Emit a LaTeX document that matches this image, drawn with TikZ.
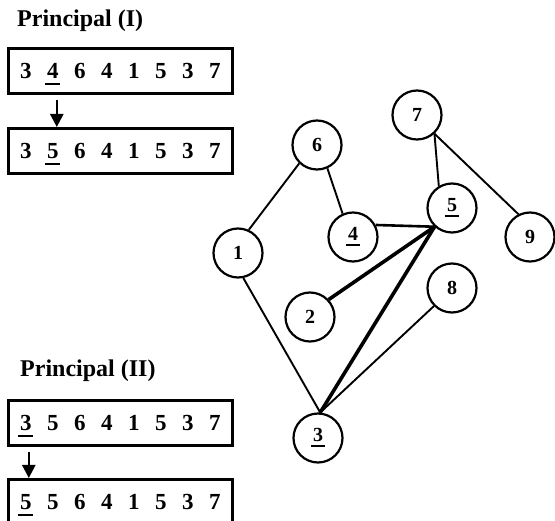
\documentclass[tikz,border=0pt]{standalone}
\usepackage{fontspec}
\setmainfont{Liberation Serif}
\usetikzlibrary{matrix, arrows.meta}

% thick underline for the marked digits
\newsavebox{\digbox}
\newcommand{\ulnum}[1]{\sbox{\digbox}{#1}%
  \rlap{\hspace{-.08em}\rule[-.27em]{\dimexpr\wd\digbox+.16em\relax}{.1em}}\usebox{\digbox}}

\begin{document}
\begin{tikzpicture}[x=1pt, y=-1pt,
  digitrow/.style={matrix of nodes, draw, line width=2.6pt,
                   inner sep=4pt, column sep=0pt, anchor=north west,
                   nodes={minimum width=27pt, minimum height=37pt,
                          inner sep=0pt, text height=16pt, text depth=0pt,
                          anchor=center,
                          font=\bfseries\fontsize{23}{25}\selectfont}},
  title/.style={anchor=base west, inner sep=0pt,
                font=\bfseries\fontsize{24}{27}\selectfont},
  vert/.style={circle, draw, line width=2.2pt, minimum size=49pt,
               inner sep=0pt, font=\bfseries\fontsize{20}{22}\selectfont},
  link/.style={line width=1.9pt},
  heavy link/.style={line width=3.6pt},
  move/.style={line width=2.4pt, -{Triangle[length=13pt, width=13pt]},
               shorten <=5pt}]
\clip (0,0) rectangle (555,521);
\useasboundingbox (0,0) rectangle (555,521);

% first principal
\node[title] (t1) at (17,27) {Principal (I)};
\matrix[digitrow] (m1) at (7,47)
{
3 & \ulnum{4} & 6 & 4 & 1 & 5 & 3 & 7 \\
};
\matrix[digitrow] (m2) at (7,127)
{
3 & \ulnum{5} & 6 & 4 & 1 & 5 & 3 & 7 \\
};
\draw[move] ([xshift=4pt]m1-1-2.center |- m1.south) --
    ([xshift=4pt]m1-1-2.center |- m2.north);

% second principal
\node[title] (t2) at (20,377) {Principal (II)};
\matrix[digitrow] (m3) at (7,399)
{
\ulnum{3} & 5 & 6 & 4 & 1 & 5 & 3 & 7 \\
};
\matrix[digitrow] (m4) at (7,478)
{
\ulnum{5} & 5 & 6 & 4 & 1 & 5 & 3 & 7 \\
};
\draw[move] ([xshift=3pt]m3-1-1.center |- m3.south) --
    ([xshift=3pt]m3-1-1.center |- m4.north);

% graph
\node[vert] (n7) at (417,115) {7};
\node[vert] (n6) at (317,145) {6};
\node[vert] (n5) at (452,208) {\ulnum{5}};
\node[vert] (n9) at (530,237) {9};
\node[vert] (n4) at (353,237) {\ulnum{4}};
\node[vert] (n1) at (238,253) {1};
\node[vert] (n8) at (452,288) {8};
\node[vert] (n2) at (310,317) {2};
\node[vert] (n3) at (318,438) {\ulnum{3}};

\draw[link] (n6.226) -- (n1.65);
\draw[link] (n6.-66) -- (n4.114);
\draw[link] (n7.-47) -- (n5.121);
\draw[link] (n7.-47) -- (n9.117);
\draw[link, line width=2.6pt] (n4.28) -- (n5.227);
\draw[heavy link] (n2.43) -- (n5.227);
\draw[heavy link] (n3.85) -- (n5.227);
\draw[link] (n1.-78) -- (n3.85);
\draw[link] (n8.225) -- (n3.85);
\end{tikzpicture}
\end{document}
